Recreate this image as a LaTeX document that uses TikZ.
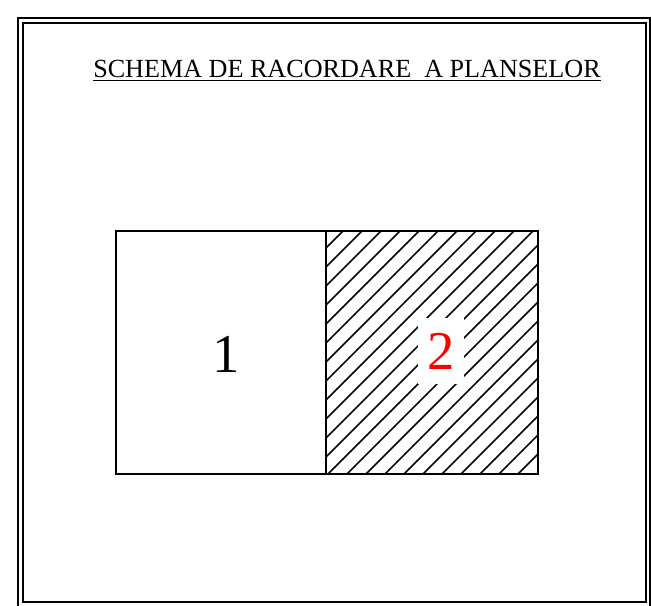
\documentclass[tikz,border=0pt]{standalone}
\usepackage{fontspec}
\setmainfont{Liberation Serif}
\usetikzlibrary{positioning}
\tikzset{
	frame/.style={line width=1.5pt},
	slab/.style={draw, line width=1.5pt},
	hatch/.style={line width=1.1pt},
	nr/.style={font=\fontsize{41}{46}\selectfont, inner sep=0pt}
}

\begin{document}
\begin{tikzpicture}[x=0.75pt,y=-0.75pt]
	\useasboundingbox (0,0) rectangle (651,606);
	% frame
	\draw [frame] (18,606) -- (18,18.3) -- (649.5,18.3) -- (649.5,606);
	\draw [frame] (23,23) rectangle (646,602.3);
	\node (title) [anchor=base, inner sep=0pt] at (347,78) {\fontsize{19.6}{24}\selectfont\underline{SCHEMA DE RACORDARE\ \ A PLANSELOR}};
	%
	\coordinate (a1) at (116,231);
	\coordinate (a2) at (326,474);
	\coordinate (b1) at (326,231);
	\coordinate (b2) at (538,474);
	\begin{scope}
		\clip (b1) rectangle (b2);
		\foreach \c in {555,574,...,1020}
			\draw [hatch] (\c-500,500) -- (\c-200,200);
	\end{scope}
	\draw [slab] (a1) rectangle (a2);
	\draw [slab] (b1) rectangle (b2);
	%
	\node (n1) [nr] at (226,354) {1};
	\node (n2) [nr, fill=white, minimum width=35pt, minimum height=49pt, text=red] at (441,351) {2};
\end{tikzpicture}
\end{document}
